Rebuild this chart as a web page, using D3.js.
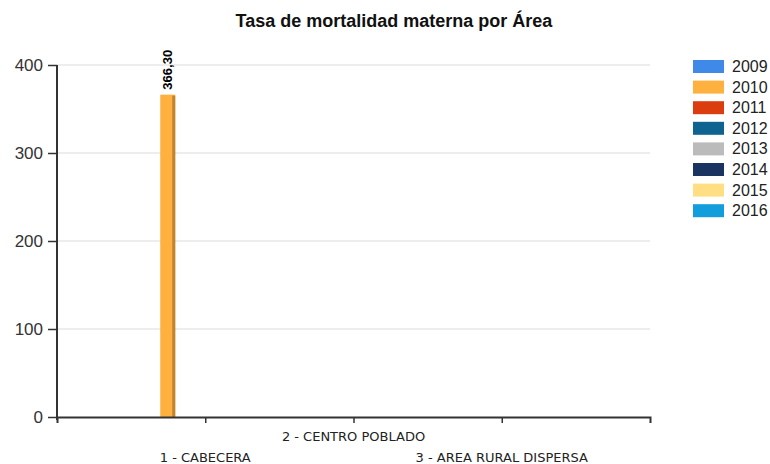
<!DOCTYPE html>
<html>
<head>
<meta charset="utf-8">
<script src="https://cdn.jsdelivr.net/npm/d3@7"></script>
<style>
  body { margin: 0; background: #fff; }
  svg { display: block; font-family: Arial, "Liberation Sans", sans-serif; }
</style>
</head>
<body>
<svg id="chart" width="770" height="464"></svg>
<script>
// Áreas y años
const areas = ["1 - CABECERA", "2 - CENTRO POBLADO", "3 - AREA RURAL DISPERSA"];
const years = ["2009", "2010", "2011", "2012", "2013", "2014", "2015", "2016"];
const yearColors = ["#3f8ae8", "#feb13e", "#dc3d0f", "#0f6390", "#bbbbbb", "#1a3462", "#ffde84", "#129ddc"];

// Tasa por año (una fila por año, un valor por área; null = sin dato)
const rate2009 = [null, null, null];
const rate2010 = [366.30, null, null];
const rate2011 = [null, null, null];
const rate2012 = [null, null, null];
const rate2013 = [null, null, null];
const rate2014 = [null, null, null];
const rate2015 = [null, null, null];
const rate2016 = [null, null, null];
const rates = [rate2009, rate2010, rate2011, rate2012, rate2013, rate2014, rate2015, rate2016];

const yTicks = [0, 100, 200, 300, 400];

const svg = d3.select("#chart");
const plotLeft = 57, plotRight = 650, plotTop = 65, plotBottom = 417;

const x = d3.scalePoint().domain(areas).range([plotLeft, plotRight]).padding(1);
const xInner = d3.scaleBand().domain(years).range([-60, 60]);
const y = d3.scaleLinear().domain([0, 400]).range([plotBottom, plotTop]);

// Título
svg.append("text")
  .attr("x", 394).attr("y", 27)
  .attr("text-anchor", "middle")
  .style("font-size", "18px").style("font-weight", "bold").style("fill", "#111")
  .text("Tasa de mortalidad materna por Área");

// Cuadrícula
svg.append("g").selectAll("line").data(yTicks.filter(d => d > 0)).join("line")
  .attr("x1", plotLeft).attr("x2", plotRight)
  .attr("y1", d => y(d)).attr("y2", d => y(d))
  .attr("stroke", "#dcdcdc").attr("stroke-width", 1.2);

// Barras con borde derecho sombreado
const bars = [];
rates.forEach((row, i) => row.forEach((v, j) => {
  if (v != null) bars.push({ year: years[i], area: areas[j], value: v, color: yearColors[i] });
}));

const g = svg.append("g");
bars.forEach(b => {
  const x0 = x(b.area) + xInner(b.year);
  const w = xInner.bandwidth();
  g.append("rect").attr("x", x0).attr("y", y(b.value))
    .attr("width", w).attr("height", y(0) - y(b.value)).attr("fill", b.color);
  g.append("rect").attr("x", x0 + w - 3).attr("y", y(b.value) + 1)
    .attr("width", 3).attr("height", y(0) - y(b.value) - 1)
    .attr("fill", d3.color(b.color).darker(0.8));
  g.append("text")
    .attr("transform", `translate(${x0 + w / 2 + 1},${y(b.value) - 5}) rotate(-90)`)
    .attr("dominant-baseline", "middle")
    .style("font-size", "13px").style("font-weight", "bold").style("fill", "#000")
    .text(d3.format(".2f")(b.value).replace(".", ","));
});

// Eje Y
const yAxis = svg.append("g").attr("transform", `translate(${plotLeft},0)`)
  .call(d3.axisLeft(y).tickValues(yTicks).tickSize(9).tickSizeOuter(0).tickPadding(5));
yAxis.select(".domain").attr("stroke", "#333").attr("stroke-width", 2)
  .attr("d", `M0,${plotTop}V${plotBottom + 3}`);
yAxis.selectAll(".tick line").attr("stroke", "#333").attr("stroke-width", 1.5);
yAxis.selectAll(".tick text").style("font-size", "17px").style("fill", "#333")
  .style("font-family", "Arial, 'Liberation Sans', sans-serif");

// Eje X
const xAxis = svg.append("g").attr("transform", `translate(0,${plotBottom})`)
  .call(d3.axisBottom(x).tickSize(6).tickSizeOuter(6).tickFormat(""));
xAxis.select(".domain").attr("stroke", "#333").attr("stroke-width", 2);
xAxis.selectAll(".tick line").attr("stroke", "#333").attr("stroke-width", 1.5);

// Etiquetas de categorías escalonadas
svg.append("g").selectAll("text").data(areas).join("text")
  .attr("x", d => x(d))
  .attr("y", (d, i) => i % 2 === 0 ? 462 : 441)
  .attr("text-anchor", "middle")
  .style("font-family", "'DejaVu Sans', Verdana, sans-serif")
  .style("font-size", "13px").style("fill", "#222")
  .text(d => d);

// Leyenda
const legend = svg.append("g").selectAll("g").data(years).join("g")
  .attr("transform", (d, i) => `translate(693,${60 + i * 20.6})`);
legend.append("rect").attr("width", 31).attr("height", 13)
  .attr("fill", (d, i) => yearColors[i]);
legend.append("text").attr("x", 39).attr("y", 12)
  .style("font-size", "16px").style("fill", "#222")
  .text(d => d);
</script>
</body>
</html>
